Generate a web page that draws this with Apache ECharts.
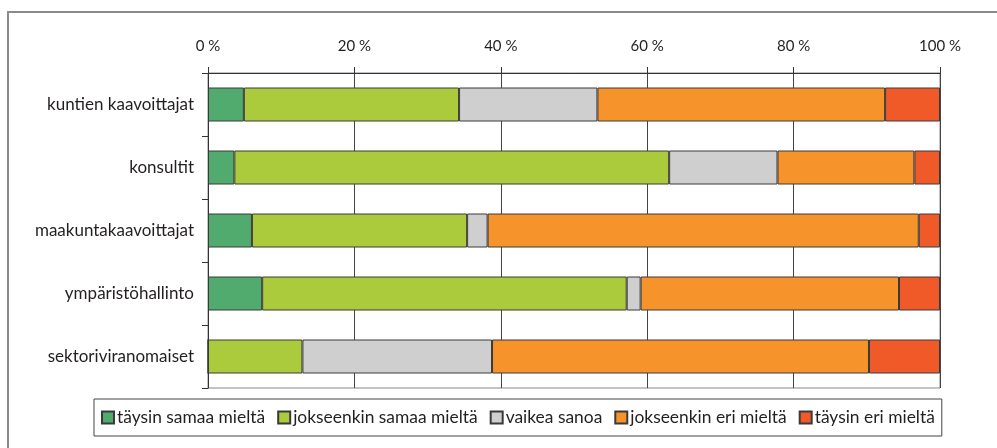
<!DOCTYPE html>
<html>
<head>
<meta charset="utf-8">
<script src="https://cdn.jsdelivr.net/npm/echarts@6/dist/echarts.min.js"></script>
<style>
html,body{margin:0;padding:0;background:#fff;}
#chart{width:997px;height:448px;}
</style>
</head>
<body>
<div id="chart"></div>
<script>
const categories = ['kuntien kaavoittajat', 'konsultit', 'maakuntakaavoittajat', 'ympäristöhallinto', 'sektoriviranomaiset'];
const seriesNames = ['täysin samaa mieltä', 'jokseenkin samaa mieltä', 'vaikea sanoa', 'jokseenkin eri mieltä', 'täysin eri mieltä'];
const taysinSamaa = [4.9, 3.6, 6.0, 7.4, 0];
const jokseenkinSamaa = [29.4, 59.4, 29.4, 49.8, 12.9];
const vaikeaSanoa = [18.9, 14.8, 2.8, 1.9, 25.9];
const jokseenkinEri = [39.3, 18.7, 58.9, 35.3, 51.5];
const taysinEri = [7.5, 3.5, 2.9, 5.6, 9.7];
const colors = ['#52AB6E', '#ACCB3C', '#CFCFCF', '#F6932A', '#F05A28'];
const values = [taysinSamaa, jokseenkinSamaa, vaikeaSanoa, jokseenkinEri, taysinEri];

const font = 'Lato, "Open Sans", sans-serif';
const chart = echarts.init(document.getElementById('chart'), null, {renderer: 'canvas'});
chart.setOption({
  animation: false,
  textStyle: {fontFamily: font},
  graphic: [{
    type: 'rect', silent: true,
    shape: {x: 8, y: 12, width: 1100, height: 600},
    style: {fill: 'none', stroke: '#8a8a8a', lineWidth: 2}
  }],
  grid: {left: 208, right: 57, top: 73, bottom: 60, show: true, borderColor: '#888', borderWidth: 1},
  legend: {
    left: 94, top: 399,
    padding: [10, 7, 10, 7],
    borderColor: '#444', borderWidth: 1,
    itemWidth: 12, itemHeight: 12, itemGap: 12,
    icon: 'rect',
    textStyle: {fontFamily: font, fontSize: 17.4, color: '#231f20', padding: [0, 0, 0, -2]},
    data: seriesNames
  },
  xAxis: {
    type: 'value', position: 'top', min: 0, max: 100, interval: 20,
    axisLine: {show: true, lineStyle: {color: '#333', width: 1}},
    axisTick: {show: true, length: 6, lineStyle: {color: '#333'}},
    axisLabel: {formatter: '{value} %', fontSize: 15, color: '#231f20', margin: 19, fontFamily: font},
    splitLine: {show: true, lineStyle: {color: '#444', width: 1}}
  },
  yAxis: {
    type: 'category', inverse: true, data: categories,
    axisLine: {show: true, lineStyle: {color: '#333', width: 1}},
    axisTick: {show: true, length: 6, lineStyle: {color: '#333'}},
    axisLabel: {fontSize: 17, color: '#231f20', margin: 14, fontFamily: font}
  },
  series: seriesNames.map((name, i) => ({
    name: name, type: 'bar', stack: 'total', barWidth: 34,
    data: values[i],
    itemStyle: {color: colors[i], borderColor: '#3a3a3a', borderWidth: 1}
  }))
});
</script>
</body>
</html>
